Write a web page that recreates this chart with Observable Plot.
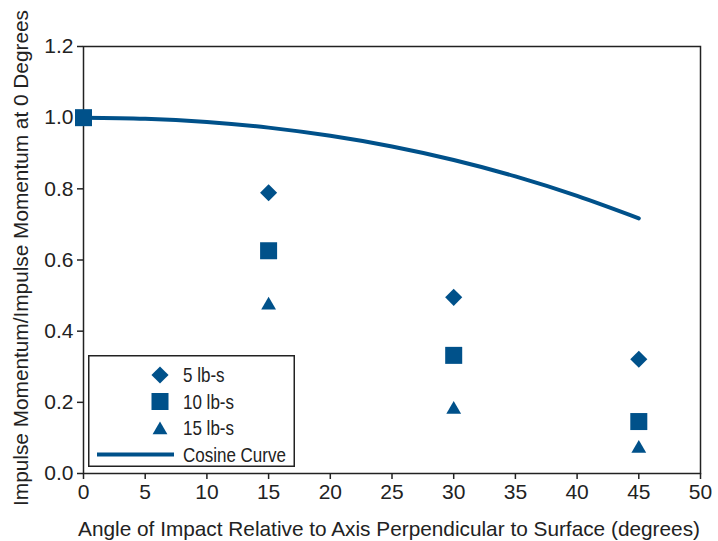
<!DOCTYPE html>
<html>
<head>
<meta charset="utf-8">
<script src="https://cdn.jsdelivr.net/npm/d3@7"></script>
<script src="https://cdn.jsdelivr.net/npm/@observablehq/plot@0.6"></script>
<style>
  html, body { margin: 0; padding: 0; background: #fff; }
  #chart { position: relative; width: 718px; height: 541px; overflow: hidden; }
  #legend { position: absolute; left: 88px; top: 355px; }
</style>
</head>
<body>
<div id="chart"></div>
<script>
// ---- data ----
const seriesNames = ["5 lb-s", "10 lb-s", "15 lb-s", "Cosine Curve"];
const angles5 = [15, 30, 45];
const values5 = [0.789, 0.495, 0.321];
const angles10 = [0, 15, 30, 45];
const values10 = [1.0, 0.626, 0.332, 0.146];
const angles15 = [15, 30, 45];
const values15 = [0.473, 0.18, 0.07];
const cosineAngles = [0, 5, 10, 15, 20, 25, 30, 35, 40, 45];
const cosineValues = [1.0, 0.997, 0.988, 0.972, 0.949, 0.919, 0.881, 0.835, 0.780, 0.717];
const xTicks = [0, 5, 10, 15, 20, 25, 30, 35, 40, 45, 50];
const yTicks = [0, 0.2, 0.4, 0.6, 0.8, 1.0, 1.2];
const xTitle = "Angle of Impact Relative to Axis Perpendicular to Surface (degrees)";
const yTitle = "Impulse Momentum/Impulse Momentum at 0 Degrees";

const blue = "#00518a";
const font = "'Liberation Sans', Arial, Helvetica, sans-serif";

const toRows = (xs, ys) => xs.map((x, i) => ({x, y: ys[i]}));
const d5 = toRows(angles5, values5);
const d10 = toRows(angles10, values10);
const d15 = toRows(angles15, values15);
const dCos = toRows(cosineAngles, cosineValues);

const chart = Plot.plot({
  width: 718,
  height: 541,
  marginLeft: 83,
  marginRight: 18,
  marginTop: 46,
  marginBottom: 68,
  style: {fontFamily: font, fontSize: "21px", color: "#222", background: "#fff", overflow: "visible"},
  x: {domain: [0, 50]},
  y: {domain: [0, 1.2]},
  marks: [
    Plot.frame({stroke: "#222", strokeWidth: 1.5}),
    Plot.axisX({ticks: xTicks, tickSize: 6, tickPadding: 5, label: null, fontSize: 21, stroke: "#222", strokeWidth: 1.5}),
    Plot.axisY({ticks: yTicks, tickSize: 6, tickPadding: 4, label: null, fontSize: 21, tickFormat: d3.format(".1f"), stroke: "#222", strokeWidth: 1.5}),
    Plot.line(dCos, {x: "x", y: "y", stroke: blue, strokeWidth: 4, curve: "natural"}),
    Plot.dot(d5, {x: "x", y: "y", symbol: "diamond2", r: 7.7, fill: blue}),
    Plot.dot(d10, {x: "x", y: "y", symbol: "square", r: 9.6, fill: blue}),
    Plot.dot(d15, {x: "x", y: "y", symbol: "triangle", r: 5.5, fill: blue}),
    Plot.text([xTitle], {frameAnchor: "bottom", textAnchor: "middle", dx: -3, dy: 62, fontSize: 20.8, fill: "#222"}),
    Plot.text([yTitle], {frameAnchor: "left", textAnchor: "middle", rotate: -90, dx: -62, dy: -2, fontSize: 20.8, fill: "#222"})
  ]
});

const container = document.getElementById("chart");
container.appendChild(chart);

// ---- legend (HTML overlay) ----
const lw = 207, lh = 112;
const leg = d3.select(container).append("svg")
  .attr("id", "legend")
  .attr("width", lw).attr("height", lh);
leg.append("rect").attr("x", 0.75).attr("y", 0.75).attr("width", lw - 1.5).attr("height", lh - 1.5)
  .attr("fill", "#fff").attr("stroke", "#222").attr("stroke-width", 1.5);
const symbols = [d3.symbolDiamond2, d3.symbolSquare, d3.symbolTriangle];
const radii = [7.7, 9.6, 5.5];
const rowY = [20, 46.5, 73, 99.5];
symbols.forEach((s, i) => {
  leg.append("path")
    .attr("d", d3.symbol(s, radii[i] * radii[i] * Math.PI)())
    .attr("transform", `translate(72,${rowY[i] + (i === 2 ? 2 : 0)})`)
    .attr("fill", blue);
});
leg.append("line").attr("x1", 9).attr("x2", 86).attr("y1", rowY[3]).attr("y2", rowY[3])
  .attr("stroke", blue).attr("stroke-width", 4);
// condensed-looking legend text: regular face squeezed horizontally
seriesNames.forEach((name, i) => {
  leg.append("text")
    .attr("transform", `translate(95,${rowY[i]}) scale(0.85,1)`)
    .attr("dy", "0.36em")
    .attr("font-family", font).attr("font-size", 20).attr("fill", "#222")
    .text(name);
});
</script>
</body>
</html>
